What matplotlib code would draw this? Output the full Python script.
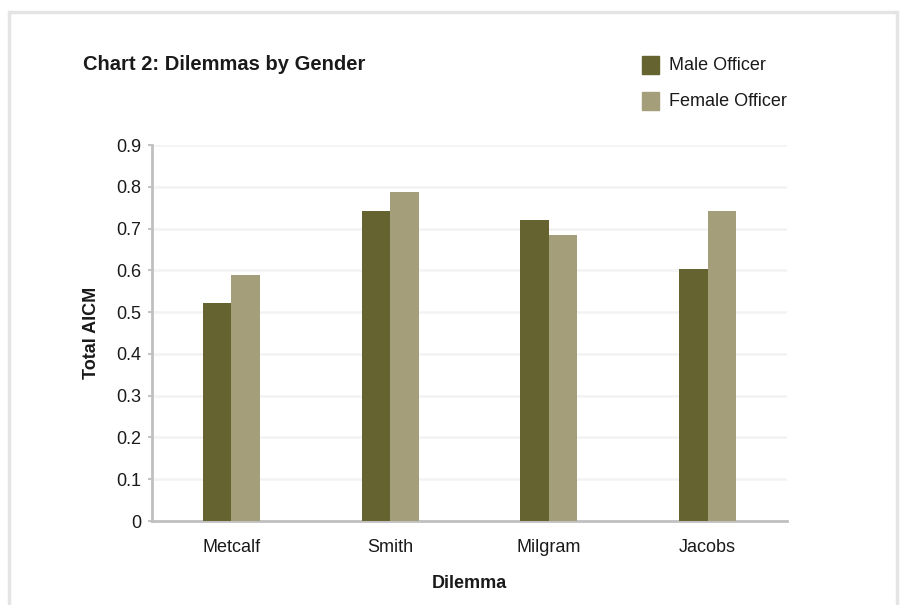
import numpy as np
import matplotlib.pyplot as plt
from matplotlib.patches import Rectangle

plt.rcParams['font.family'] = ['Liberation Sans', 'DejaVu Sans']

dilemmas = ['Metcalf', 'Smith', 'Milgram', 'Jacobs']
male = [0.523, 0.742, 0.720, 0.602]
female = [0.588, 0.787, 0.684, 0.742]
yticks = [0, 0.1, 0.2, 0.3, 0.4, 0.5, 0.6, 0.7, 0.8, 0.9]
ytick_labels = ['0', '0.1', '0.2', '0.3', '0.4', '0.5', '0.6', '0.7', '0.8', '0.9']

MALE_COL = '#656330'
FEMALE_COL = '#a59e7a'
TXT = '#1a1a1a'
W, H = 901, 605

fig = plt.figure(figsize=(W / 100, H / 100), dpi=100)
ax = fig.add_axes([152 / W, 84 / H, 635 / W, 376 / H])

x = np.arange(len(dilemmas))
bw = 0.18
ax.bar(x - bw / 2, male, bw, color=MALE_COL, zorder=3, label='Male Officer')
ax.bar(x + bw / 2, female, bw, color=FEMALE_COL, zorder=3, label='Female Officer')

ax.set_xlim(-0.5, len(dilemmas) - 0.5)
ax.set_ylim(0, 0.9)
ax.set_yticks(yticks)
ax.set_yticklabels(ytick_labels, fontsize=13, color=TXT)
ax.set_xticks(x)
ax.set_xticklabels(dilemmas, fontsize=13, color=TXT)
ax.tick_params(axis='x', length=0, pad=13)
ax.tick_params(axis='y', length=3, width=1.5, color='#c4c4c4', pad=5)
ax.grid(axis='y', color='#f3f3f3', lw=1.8, zorder=0)

for s in ['top', 'right']:
    ax.spines[s].set_visible(False)
for s in ['left', 'bottom']:
    ax.spines[s].set_color('#c0c0c0')
    ax.spines[s].set_linewidth(2)

ax.set_ylabel('Total AICM', fontsize=13, fontweight='bold', labelpad=11, color=TXT)
ax.set_xlabel('Dilemma', fontsize=13, fontweight='bold', labelpad=14, color=TXT)

fig.text(83 / W, 1 - 65 / H, 'Chart 2: Dilemmas by Gender', fontsize=14.5,
         fontweight='bold', va='center', ha='left', color=TXT)

# legend drawn by hand in figure pixels
for i, (lab, col) in enumerate([('Male Officer', MALE_COL), ('Female Officer', FEMALE_COL)]):
    yc = 65 + i * 36
    fig.patches.append(Rectangle((642 / W, 1 - (yc + 8.5) / H), 17 / W, 17 / H,
                                 color=col, transform=fig.transFigure))
    fig.text(669 / W, 1 - (yc + 1) / H, lab, fontsize=13, va='center', ha='left', color=TXT)

# outer frame
fig.patches.append(Rectangle((9 / W, -0.05), 888 / W, 1 - 12 / H + 0.05, fill=False,
                             ec='#e4e4e4', lw=2.5, transform=fig.transFigure))

fig.savefig('out.png', dpi=100)
